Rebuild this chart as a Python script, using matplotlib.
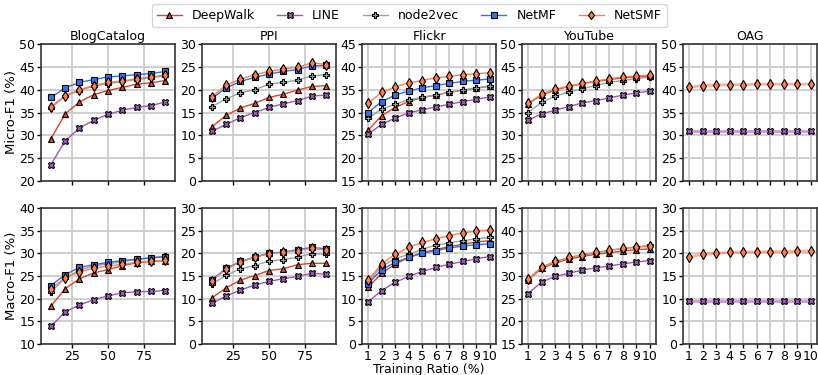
import numpy as np
import matplotlib.pyplot as plt

# x values
x_pct = [10, 20, 30, 40, 50, 60, 70, 80, 90]
x_small = [1, 2, 3, 4, 5, 6, 7, 8, 9, 10]

datasets = ['BlogCatalog', 'PPI', 'Flickr', 'YouTube', 'OAG']
methods = ['DeepWalk', 'LINE', 'node2vec', 'NetMF', 'NetSMF']

# Micro-F1 (%)
micro_blog = {
    'DeepWalk': [29.3, 34.7, 37.3, 38.9, 39.8, 40.5, 41.2, 41.5, 42.0],
    'LINE': [23.6, 28.8, 31.6, 33.3, 34.6, 35.5, 36.1, 36.5, 37.3],
    'node2vec': [36.0, 38.6, 39.8, 40.8, 41.3, 41.8, 42.2, 42.6, 43.0],
    'NetMF': [38.3, 40.4, 41.6, 42.2, 42.8, 43.0, 43.3, 43.5, 44.0],
    'NetSMF': [36.3, 38.7, 40.0, 40.9, 41.6, 41.9, 42.4, 42.8, 43.2],
}
micro_ppi = {
    'DeepWalk': [11.9, 14.4, 16.0, 17.0, 18.3, 19.0, 19.9, 20.7, 20.9],
    'LINE': [10.9, 12.4, 13.9, 15.0, 16.1, 16.9, 17.6, 18.6, 18.8],
    'node2vec': [16.3, 18.0, 19.3, 20.0, 21.2, 21.6, 22.1, 23.0, 23.3],
    'NetMF': [18.1, 20.4, 21.8, 22.7, 23.4, 24.0, 24.4, 25.2, 25.3],
    'NetSMF': [18.5, 21.0, 22.3, 23.3, 24.0, 24.5, 24.9, 25.9, 25.5],
}
micro_flickr = {
    'DeepWalk': [26.1, 29.3, 31.1, 32.4, 33.3, 33.8, 34.4, 34.9, 35.3, 35.8],
    'LINE': [25.3, 27.4, 28.8, 29.9, 30.6, 31.2, 31.8, 32.4, 32.9, 33.4],
    'node2vec': [28.7, 30.8, 31.8, 32.8, 33.3, 33.9, 34.4, 34.9, 35.4, 35.8],
    'NetMF': [30.0, 32.4, 33.8, 34.7, 35.4, 35.9, 36.4, 36.8, 37.1, 37.3],
    'NetSMF': [32.0, 34.4, 35.6, 36.5, 37.0, 37.6, 37.9, 38.3, 38.5, 38.7],
}
micro_youtube = {
    'DeepWalk': [36.9, 38.8, 39.9, 40.7, 41.3, 41.8, 42.2, 42.6, 42.8, 43.0],
    'LINE': [33.3, 34.7, 35.5, 36.3, 37.1, 37.6, 38.2, 38.8, 39.3, 39.7],
    'node2vec': [35.0, 37.2, 38.6, 39.5, 40.2, 40.9, 41.6, 42.0, 42.4, 42.8],
    'NetSMF': [37.0, 39.0, 40.1, 40.8, 41.4, 41.9, 42.4, 42.8, 43.0, 43.2],
}
micro_oag = {
    'LINE': [31.0, 31.0, 31.0, 31.0, 31.0, 31.0, 31.0, 31.0, 31.0, 31.0],
    'NetSMF': [40.5, 40.9, 41.0, 41.1, 41.1, 41.2, 41.2, 41.2, 41.2, 41.2],
}

# Macro-F1 (%)
macro_blog = {
    'DeepWalk': [18.4, 22.2, 24.4, 25.7, 26.4, 27.3, 27.9, 28.2, 28.4],
    'LINE': [13.9, 17.1, 18.6, 19.8, 20.6, 21.3, 21.5, 21.6, 21.8],
    'node2vec': [21.4, 24.6, 26.3, 27.2, 27.7, 28.1, 28.7, 29.0, 29.4],
    'NetMF': [22.9, 25.3, 26.9, 27.5, 28.0, 28.4, 28.7, 29.0, 29.2],
    'NetSMF': [22.2, 24.6, 25.9, 26.7, 27.2, 27.6, 28.0, 28.3, 28.5],
}
macro_ppi = {
    'DeepWalk': [10.2, 12.4, 14.1, 15.1, 16.2, 16.6, 17.5, 17.8, 17.8],
    'LINE': [9.0, 10.6, 11.9, 13.0, 13.8, 14.4, 14.9, 15.6, 15.4],
    'node2vec': [13.2, 15.2, 16.6, 17.3, 18.3, 18.6, 19.2, 19.9, 19.8],
    'NetMF': [14.2, 16.7, 18.2, 19.2, 20.0, 20.3, 20.8, 21.3, 21.0],
    'NetSMF': [14.0, 16.5, 18.1, 19.1, 19.9, 20.2, 20.6, 21.1, 20.7],
}
macro_flickr = {
    'DeepWalk': [12.5, 15.6, 17.6, 19.1, 20.2, 20.8, 21.5, 22.0, 22.5, 22.8],
    'LINE': [9.3, 11.8, 13.6, 14.9, 16.0, 16.9, 17.6, 18.2, 18.8, 19.3],
    'node2vec': [13.6, 17.2, 18.8, 19.8, 20.9, 21.8, 22.3, 22.8, 23.2, 23.5],
    'NetMF': [13.3, 16.4, 18.0, 19.1, 20.0, 20.6, 21.2, 21.6, 21.9, 22.1],
    'NetSMF': [14.1, 17.7, 19.8, 21.3, 22.4, 23.2, 23.9, 24.5, 24.9, 25.2],
}
macro_youtube = {
    'DeepWalk': [29.1, 31.7, 32.9, 33.7, 34.3, 34.8, 35.1, 35.5, 35.8, 36.0],
    'LINE': [26.1, 28.7, 29.9, 30.6, 31.3, 31.8, 32.2, 32.7, 33.1, 33.4],
    'node2vec': [29.2, 31.9, 33.2, 34.0, 34.6, 35.1, 35.6, 36.0, 36.4, 36.8],
    'NetSMF': [29.3, 32.0, 33.2, 34.1, 34.7, 35.2, 35.7, 36.1, 36.3, 36.6],
}
macro_oag = {
    'LINE': [9.4, 9.4, 9.4, 9.4, 9.4, 9.4, 9.4, 9.4, 9.4, 9.4],
    'NetSMF': [19.2, 19.8, 20.0, 20.2, 20.3, 20.3, 20.4, 20.4, 20.5, 20.5],
}

micro = [micro_blog, micro_ppi, micro_flickr, micro_youtube, micro_oag]
macro = [macro_blog, macro_ppi, macro_flickr, macro_youtube, macro_oag]
xs = [x_pct, x_pct, x_small, x_small, x_small]
micro_ylim = [(20, 50), (0, 30), (15, 45), (20, 50), (20, 50)]
macro_ylim = [(10, 40), (0, 30), (0, 30), (15, 45), (0, 30)]

# styles
colors = {'DeepWalk': '#d9472b', 'LINE': '#9b59b6', 'node2vec': '#95a5a6',
          'NetMF': '#3b6fe0', 'NetSMF': '#ff7f50'}
markers = {'DeepWalk': '^', 'LINE': 'X', 'node2vec': 'P', 'NetMF': 's', 'NetSMF': 'd'}

plt.rcParams['font.family'] = 'DejaVu Sans'
plt.rcParams['font.size'] = 9

W, H = 818.0, 375.0
fig = plt.figure(figsize=(W / 100, H / 100), dpi=100)
lefts = [41, 202, 362, 522, 683]
width = 134
rows_px = [(44, 181), (208, 344)]

axes = []
for r, (top, bot) in enumerate(rows_px):
    row_axes = []
    for c in range(5):
        ax = fig.add_axes([lefts[c] / W, 1 - bot / H, width / W, (bot - top) / H])
        row_axes.append(ax)
    axes.append(row_axes)

for row, (data, ylims) in enumerate([(micro, micro_ylim), (macro, macro_ylim)]):
    for col in range(5):
        ax = axes[row][col]
        for m in methods:
            if m not in data[col]:
                continue
            lw = 1.0
            alpha = 1.0
            if col == 4:
                lw = 2.0
                alpha = 0.6
            ax.plot(xs[col], data[col][m], color=colors[m], lw=lw, alpha=alpha,
                    zorder=2)
            ax.plot(xs[col], data[col][m], ls='none', marker=markers[m],
                    markersize=5, markerfacecolor=colors[m],
                    markeredgecolor='black', markeredgewidth=0.8, zorder=3)
        ax.set_ylim(*ylims[col])
        ax.set_yticks(np.arange(ylims[col][0], ylims[col][1] + 1, 5))
        if col < 2:
            ax.set_xlim(3, 97)
            ax.set_xticks([25, 50, 75])
        else:
            ax.set_xlim(0.55, 10.45)
            ax.set_xticks(x_small)
        ax.grid(True, color='#cccccc', lw=1.3)
        ax.set_axisbelow(True)
        for s in ax.spines.values():
            s.set_color('#333333')
            s.set_linewidth(1.2)
        ax.tick_params(length=3, width=1, colors='black', labelsize=9, pad=1)
        if row == 0:
            ax.set_title(datasets[col], fontsize=9, pad=3)
            ax.tick_params(labelbottom=False)

axes[0][0].set_ylabel('Micro-F1 (%)', fontsize=9.5, labelpad=1)
axes[1][0].set_ylabel('Macro-F1 (%)', fontsize=9.5, labelpad=1)
axes[1][2].set_xlabel('Training Ratio (%)', fontsize=9, labelpad=0.5)

handles = []
for m in methods:
    h, = axes[0][0].plot([], [], color=colors[m], lw=1, marker=markers[m],
                         markersize=4.5, markerfacecolor=colors[m],
                         markeredgecolor='black', markeredgewidth=0.8, label=m)
    handles.append(h)
leg = fig.legend(handles=handles, labels=methods, loc='upper center', ncol=5,
                 bbox_to_anchor=(0.5, 1.005), fontsize=9, frameon=True,
                 columnspacing=1.8, handlelength=2.0, borderpad=0.4)
leg.get_frame().set_edgecolor('#cccccc')

fig.savefig('out.png', dpi=100)
